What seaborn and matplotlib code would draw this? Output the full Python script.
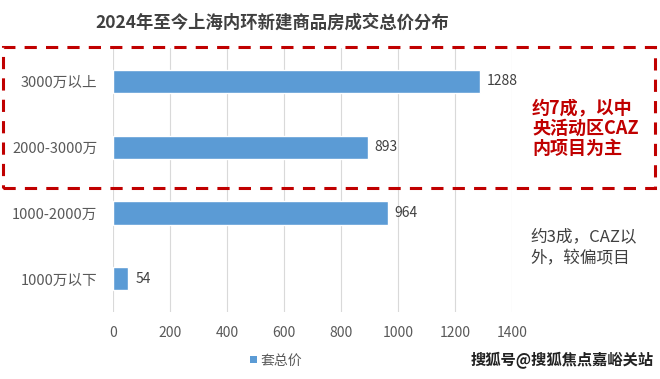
import matplotlib
matplotlib.use("Agg")
import matplotlib.pyplot as plt
import seaborn as sns
import pandas as pd
from matplotlib.patches import Rectangle

# data
categories = ["3000万以上", "2000-3000万", "1000-2000万", "1000万以下"]
counts = [1288, 893, 964, 54]
series_name = "套总价"
x_ticks = [0, 200, 400, 600, 800, 1000, 1200, 1400]

df = pd.DataFrame({"range": categories, "count": counts, "series": series_name})

sns.set_theme(style="white")
plt.rcParams['font.family'] = ['Noto Sans CJK SC', 'DejaVu Sans']

bar_color = "#5b9bd5"
grey = "#595959"

fig = plt.figure(figsize=(6.6, 3.79), dpi=100)
ax = fig.add_axes([0.171, 0.177, 0.605, 0.696])

sns.barplot(data=df, x="count", y="range", hue="series", palette=[bar_color],
            saturation=1, width=0.35, ax=ax, legend=False)

ax.set_xlim(0, 1400)
ax.set_ylim(3.5, -0.5)
ax.set_xticks(x_ticks)
ax.grid(axis="x", color="#d9d9d9", linewidth=0.8)
ax.set_axisbelow(True)
for s in ax.spines.values():
    s.set_visible(False)
ax.set_xlabel("")
ax.set_ylabel("")
ax.tick_params(axis="x", colors=grey, labelsize=10, length=0, pad=10)
ax.tick_params(axis="y", colors=grey, labelsize=10.5, length=0, pad=11)

for cont in ax.containers:
    ax.bar_label(cont, padding=5, color="#404040", fontsize=10)

fig.text(0.413, 0.94, "2024年至今上海内环新建商品房成交总价分布", ha="center", va="center",
         fontsize=12.5, fontweight="bold", color="#404040")

# red dashed box around the top two bars
fig.patches.append(Rectangle((0.004, 0.505), 0.988, 0.37, transform=fig.transFigure,
                             fill=False, edgecolor="#c00000", linewidth=2.2,
                             linestyle=(0, (4, 3))))

fig.text(0.806, 0.662, "约7成，以中\n央活动区CAZ\n内项目为主", ha="left", va="center",
         fontsize=13, fontweight="bold", color="#c00000", linespacing=1.1)
fig.text(0.803, 0.346, "约3成，CAZ以\n外，较偏项目", ha="left", va="center",
         fontsize=12, color="#404040", linespacing=1.35)

# legend
fig.patches.append(Rectangle((0.379, 0.042), 0.01, 0.019, transform=fig.transFigure,
                             facecolor=bar_color, edgecolor="none"))
fig.text(0.394, 0.048, series_name, ha="left", va="center", fontsize=10, color=grey)

fig.text(0.99, 0.05, "搜狐号@搜狐焦点嘉峪关站", ha="right", va="center",
         fontsize=11, fontweight="bold", color="#222222")

fig.savefig("out.png", dpi=100)
